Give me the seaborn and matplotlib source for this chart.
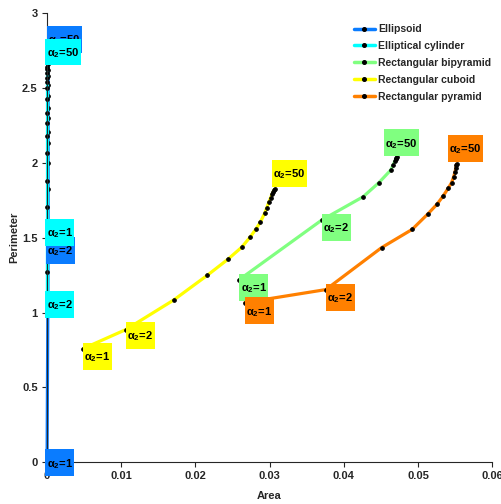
import matplotlib
matplotlib.use("Agg")
import matplotlib.pyplot as plt
from matplotlib.lines import Line2D
from matplotlib.path import Path
from matplotlib.ticker import FuncFormatter
import seaborn as sns
import pandas as pd

# values
shapes = ["Ellipsoid", "Elliptical cylinder", "Rectangular bipyramid",
          "Rectangular cuboid", "Rectangular pyramid"]
colors = ["#0A7CFF", "#00FFFF", "#80FF80", "#FFFF00", "#FF8000"]

ellipsoid_area = [0.00005, 0.0002, 0.0002, 0.0002, 0.0002, 0.0002, 0.0002, 0.0002,
                  0.0002, 0.0002, 0.0002, 0.0002, 0.0002, 0.0002, 0.0002]
ellipsoid_perim = [0.0, 1.468, 1.824, 1.997, 2.131, 2.208, 2.302, 2.369,
                   2.45, 2.52, 2.58, 2.62, 2.66, 2.69, 2.72]

cylinder_area = [0.0] * 16
cylinder_perim = [1.588, 1.107, 1.273, 1.703, 1.881, 2.064, 2.180, 2.265,
                  2.331, 2.425, 2.50, 2.54, 2.57, 2.60, 2.625, 2.643]

bipyramid_area = [0.02594, 0.03704, 0.04259, 0.04471, 0.04632, 0.04666,
                  0.04686, 0.04699, 0.04706, 0.04709]
bipyramid_perim = [1.221, 1.619, 1.774, 1.868, 1.953, 1.989,
                   2.013, 2.026, 2.033, 2.037]

cuboid_area = [0.00492, 0.01067, 0.01709, 0.02161, 0.02443, 0.02623, 0.02739,
               0.02816, 0.02874, 0.02933, 0.02964, 0.02991, 0.03015, 0.03034,
               0.03049, 0.03061, 0.03071]
cuboid_perim = [0.760, 0.887, 1.084, 1.249, 1.358, 1.436, 1.505,
                1.558, 1.603, 1.663, 1.702, 1.739, 1.769, 1.792,
                1.809, 1.819, 1.826]

pyramid_area = [0.02668, 0.03758, 0.04507, 0.04919, 0.05130, 0.05255, 0.05336,
                0.05403, 0.05449, 0.05477, 0.05496, 0.05507, 0.05513, 0.05516]
pyramid_perim = [1.067, 1.154, 1.434, 1.556, 1.659, 1.725, 1.779,
                 1.830, 1.868, 1.906, 1.939, 1.966, 1.983, 1.993]

label_texts = ["1", "2", "50"]

areas = [ellipsoid_area, cylinder_area, bipyramid_area, cuboid_area, pyramid_area]
perims = [ellipsoid_perim, cylinder_perim, bipyramid_perim, cuboid_perim, pyramid_perim]

frames = []
for name, a, p in zip(shapes, areas, perims):
    frames.append(pd.DataFrame({"Area": a, "Perimeter": p, "Shape": name}))
df = pd.concat(frames, ignore_index=True)

sns.set_style("ticks")
plt.rcParams["font.family"] = ["Liberation Sans", "DejaVu Sans"]
plt.rcParams["font.weight"] = "bold"
plt.rcParams["mathtext.fontset"] = "custom"
plt.rcParams["mathtext.rm"] = "Liberation Sans:bold"
plt.rcParams["mathtext.it"] = "Liberation Sans"
plt.rcParams["mathtext.bf"] = "Liberation Sans:bold"

PAD_X, PAD_TOP, PAD_BOT = 1.5, 7.5, 5.5


def label_box(x0, y0, width, height, mutation_size):
    # box with separate horizontal / vertical padding (pixels)
    x1, y1 = x0 + width + PAD_X, y0 + height + PAD_TOP
    x0, y0 = x0 - PAD_X, y0 - PAD_BOT
    return Path([(x0, y0), (x1, y0), (x1, y1), (x0, y1), (x0, y0)], closed=True)


fig = plt.figure(figsize=(5.02, 5.04), dpi=100)
ax = fig.add_axes([0.093, 0.0827, 0.888, 0.891])

palette = dict(zip(shapes, colors))
sns.lineplot(data=df, x="Area", y="Perimeter", hue="Shape", palette=palette,
             hue_order=shapes, sort=False, estimator=None, units="Shape",
             linewidth=2.3, marker="o", markersize=2.6,
             markerfacecolor="black", markeredgecolor="black",
             legend=False, ax=ax)
for ln in ax.lines:
    ln.set_clip_on(False)

# alpha_2 labels: (series, point index, text index, offset px)
labels = [
    (0, 0, 0, (-0.2, 5.5)), (0, 1, 1, (-0.7, -1.9)), (0, -1, 2, (0, 21.8)),
    (1, 0, 0, (0.3, -1.9)), (1, 1, 1, (0.3, -1.9)), (1, -1, 2, (0.3, 20.5)),
    (2, 0, 0, (1.3, -2)), (2, 1, 1, (1.5, -1.5)), (2, -1, 2, (-11.2, 20.5)),
    (3, 0, 0, (1.2, -1.9)), (3, 1, 1, (1.5, 0)), (3, -1, 2, (-1.5, 21.5)),
    (4, 0, 0, (1.5, -2.3)), (4, 1, 1, (1.5, -1.9)), (4, -1, 2, (-7.2, 21.5)),
]
for k, (s, i, t, off) in enumerate(labels):
    ax.annotate(r"$\mathregular{\alpha_2}$=" + label_texts[t],
                xy=(areas[s][i], perims[s][i]), xytext=off, textcoords="offset pixels",
                ha="left", va="top", fontsize=8, fontweight="bold", color="black",
                bbox=dict(boxstyle=label_box, fc=colors[s], ec="none"),
                zorder=5 + k * 0.01, annotation_clip=False)

ax.set_xlim(0, 0.06)
ax.set_ylim(0, 3)
ax.set_xticks([0, 0.01, 0.02, 0.03, 0.04, 0.05, 0.06])
ax.set_yticks([0, 0.5, 1, 1.5, 2, 2.5, 3])
fmt = FuncFormatter(lambda v, pos: "%g" % v)
ax.xaxis.set_major_formatter(fmt)
ax.yaxis.set_major_formatter(fmt)
ax.tick_params(direction="out", length=3.5, width=0.8, labelsize=8, pad=3)
for lab in ax.get_xticklabels() + ax.get_yticklabels():
    lab.set_fontweight("bold")
ax.set_xlabel("Area", fontsize=8, fontweight="bold", labelpad=7)
ax.set_ylabel("Perimeter", fontsize=8, fontweight="bold", labelpad=2)
sns.despine(ax=ax)
for sp in ax.spines.values():
    sp.set_linewidth(0.8)

handles = [Line2D([], [], color=c, linewidth=2.5, marker="o", markersize=2.6,
                  markerfacecolor="black", markeredgecolor="black") for c in colors]
fig.legend(handles, shapes, loc="upper left", bbox_to_anchor=(0.705, 0.952),
           frameon=False, handlelength=2.0, handletextpad=0.3,
           labelspacing=0.66, borderpad=0, borderaxespad=0,
           prop={"weight": "bold", "size": 7.5})

fig.savefig("out.png", dpi=100)
